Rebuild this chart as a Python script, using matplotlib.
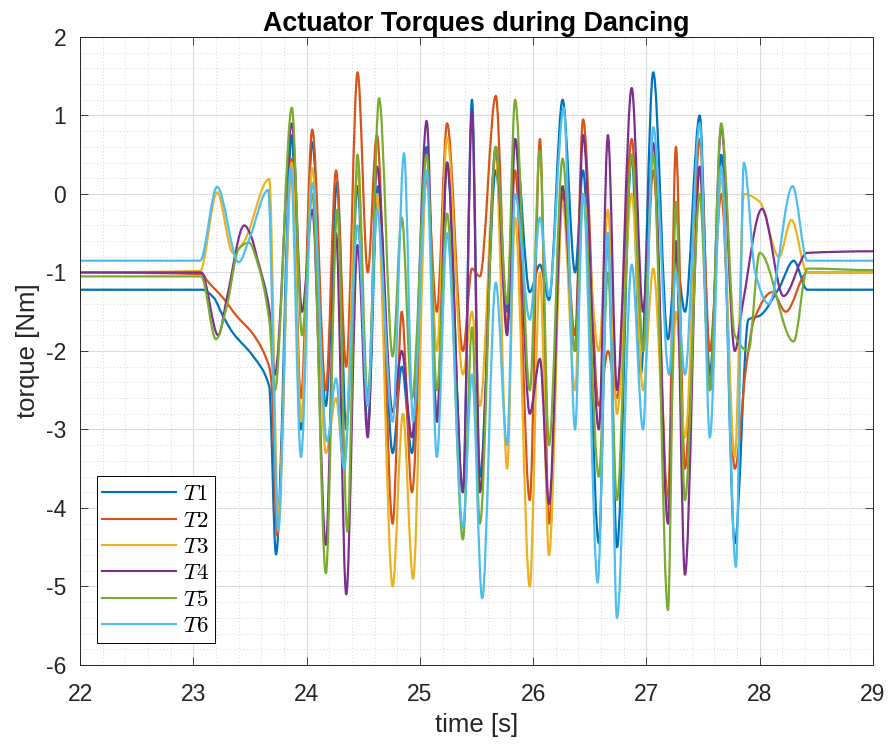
import matplotlib
matplotlib.use("Agg")
import matplotlib.pyplot as plt
from matplotlib.ticker import MultipleLocator
from matplotlib.path import Path
from matplotlib.patches import PathPatch
from matplotlib.lines import Line2D

plt.rcParams['font.family'] = ['Liberation Sans', 'DejaVu Sans']
plt.rcParams['mathtext.fontset'] = 'cm'
plt.rcParams['axes.unicode_minus'] = False

# Torque samples (time [s], torque [Nm]) for each actuator
T1_t = [22.0, 23.08, 23.18, 23.26, 23.35, 23.53, 23.67, 23.73, 23.87, 23.95, 24.05, 24.17, 24.27, 24.35,
        24.45, 24.54, 24.63, 24.76, 24.84, 24.93, 25.06, 25.15, 25.24, 25.38, 25.46, 25.53, 25.67, 25.77,
        25.84, 25.97, 26.06, 26.14, 26.26, 26.37, 26.44, 26.58, 26.66, 26.74, 26.87, 26.95, 27.06, 27.19,
        27.26, 27.34, 27.47, 27.56, 27.66, 27.78, 27.90, 28.00, 28.17, 28.30, 28.42, 29.0]
T1_v = [-1.22, -1.22, -1.32, -1.55, -1.77, -2.07, -2.45, -4.59, 0.75, -3.0, 0.66, -2.7, 0.15, -3.0,
        0.1, -3.0, 0.1, -3.3, -2.2, -3.3, 0.6, -2.9, 0.4, -3.8, 1.2, -3.6, 0.3, -1.5,
        0.7, -1.25, -0.9, -1.35, 1.2, -1.0, 0.3, -4.45, -0.5, -4.5, 0.5, -2.3, 1.55, -1.85,
        -0.8, -1.5, 1.0, -2.3, 0.5, -4.45, -1.6, -1.55, -1.2, -0.85, -1.22, -1.22]

T2_t = [22.0, 23.08, 23.12, 23.26, 23.38, 23.53, 23.67, 23.69, 23.74, 23.87, 23.95, 24.05, 24.17, 24.26,
        24.35, 24.45, 24.54, 24.62, 24.76, 24.84, 24.93, 25.06, 25.15, 25.24, 25.38, 25.46, 25.53, 25.67,
        25.77, 25.84, 25.97, 26.06, 26.14, 26.26, 26.37, 26.44, 26.58, 26.66, 26.74, 26.87, 26.97, 27.06,
        27.19, 27.26, 27.34, 27.47, 27.56, 27.66, 27.78, 27.88, 27.95, 28.11, 28.23, 28.42, 29.0]
T2_v = [-1.0, -1.02, -1.1, -1.32, -1.55, -1.79, -2.2, -2.4, -4.35, 0.45, -2.6, 0.82, -2.5, 0.3,
        -2.2, 1.55, -1.0, 0.75, -4.2, -1.5, -3.8, 0.2, -1.5, 0.9, -2.0, -0.95, -1.05, 1.25,
        -1.7, 0.3, -3.9, 0.7, -4.2, 0.0, -1.8, 0.95, -2.7, -2.0, -2.6, 0.7, -2.0, 0.3,
        -3.9, 0.6, -3.5, 0.7, -2.0, 0.0, -3.5, -2.2, -1.6, -1.25, -1.5, -1.0, -1.0]

T3_t = [22.0, 23.06, 23.21, 23.35, 23.45, 23.67, 23.75, 23.87, 23.95, 24.05, 24.17, 24.26, 24.33, 24.45,
        24.54, 24.62, 24.76, 24.85, 24.94, 25.06, 25.15, 25.24, 25.38, 25.46, 25.53, 25.67, 25.77, 25.84,
        25.97, 26.06, 26.14, 26.26, 26.37, 26.44, 26.58, 26.66, 26.74, 26.87, 26.97, 27.06, 27.19, 27.26,
        27.34, 27.47, 27.56, 27.66, 27.78, 27.86, 28.00, 28.17, 28.28, 28.42, 29.0]
T3_v = [-1.0, -0.98, 0.02, -0.75, -0.6, 0.19, -4.1, 0.4, -2.9, 0.33, -3.3, -2.6, -3.45, 0.3,
        -2.7, 0.0, -5.0, -2.8, -4.9, 0.3, -2.0, 0.72, -2.3, -1.5, -2.7, 0.5, -3.5, -0.3,
        -5.0, -1.0, -4.6, -0.1, -2.5, 0.0, -2.0, -0.2, -2.8, 0.0, -2.5, -0.95, -4.0, -1.5,
        -3.1, 0.3, -2.5, 0.2, -3.35, 0.0, -0.1, -0.8, -0.33, -1.0, -1.0]

T4_t = [22.0, 23.07, 23.22, 23.30, 23.45, 23.50, 23.57, 23.67, 23.72, 23.87, 23.96, 24.05, 24.17, 24.26,
        24.35, 24.45, 24.54, 24.62, 24.76, 24.84, 24.93, 25.06, 25.15, 25.24, 25.38, 25.46, 25.53, 25.67,
        25.77, 25.84, 25.97, 26.06, 26.14, 26.26, 26.37, 26.44, 26.58, 26.66, 26.74, 26.87, 26.97, 27.06,
        27.19, 27.26, 27.34, 27.47, 27.56, 27.66, 27.78, 27.85, 28.02, 28.21, 28.42, 29.0]
T4_v = [-1.0, -1.0, -1.8, -1.3, -0.4, -0.5, -0.85, -1.46, -2.3, 0.9, -1.5, -0.2, -4.47, -0.5,
        -5.1, -0.65, -3.1, 0.35, -2.78, -2.0, -3.1, 0.93, -2.9, 0.4, -3.8, 1.05, -3.8, 0.6,
        -1.8, 0.7, -2.8, -2.1, -3.95, 0.1, -2.0, 0.75, -3.0, 0.75, -2.5, 1.35, -1.5, 0.65,
        -4.2, -0.6, -4.85, 0.35, -2.5, 0.85, -2.0, -1.4, -0.19, -1.3, -0.75, -0.73]

T5_t = [22.0, 23.07, 23.20, 23.30, 23.40, 23.49, 23.58, 23.67, 23.72, 23.87, 23.96, 24.05, 24.17, 24.27,
        24.36, 24.45, 24.54, 24.64, 24.76, 24.84, 24.93, 25.06, 25.15, 25.24, 25.38, 25.46, 25.53, 25.67,
        25.77, 25.84, 25.97, 26.06, 26.14, 26.26, 26.37, 26.44, 26.58, 26.66, 26.74, 26.87, 26.97, 27.06,
        27.19, 27.26, 27.34, 27.47, 27.56, 27.66, 27.78, 27.90, 28.00, 28.30, 28.42, 29.0]
T5_v = [-1.05, -1.05, -1.85, -1.4, -0.7, -0.62, -0.94, -1.6, -2.5, 1.1, -1.8, 0.0, -4.83, -0.2,
        -4.3, 0.5, -2.6, 1.22, -2.07, -0.3, -2.6, 0.5, -2.5, -0.25, -4.4, -1.7, -4.2, 0.6,
        -1.4, 1.2, -2.5, 0.55, -3.2, 0.45, -2.0, 0.0, -3.6, -1.0, -3.9, 0.5, -2.0, 0.5,
        -5.3, -0.1, -3.9, 0.0, -2.5, 0.9, -1.8, -2.0, -0.75, -1.88, -0.95, -0.97]

T6_t = [22.0, 23.06, 23.21, 23.40, 23.50, 23.66, 23.75, 23.86, 23.95, 24.05, 24.18, 24.26, 24.33, 24.45,
        24.54, 24.62, 24.76, 24.86, 24.94, 25.06, 25.15, 25.24, 25.38, 25.46, 25.55, 25.67, 25.77, 25.84,
        25.97, 26.06, 26.14, 26.27, 26.37, 26.44, 26.57, 26.66, 26.74, 26.87, 26.97, 27.06, 27.20, 27.26,
        27.34, 27.47, 27.56, 27.66, 27.79, 27.86, 27.96, 28.08, 28.29, 28.42, 29.0]
T6_v = [-0.85, -0.85, 0.09, -0.87, -0.55, 0.05, -4.29, 0.33, -3.35, 0.14, -3.15, -2.35, -3.5, -0.4,
        -2.7, -0.2, -2.9, 0.52, -2.9, 0.3, -3.35, -0.5, -4.25, -2.3, -5.15, -1.13, -3.2, 0.0,
        -1.6, -0.3, -1.3, 1.1, -3.0, 0.0, -4.95, -0.5, -5.4, -0.9, -3.0, 0.85, -2.3, -1.0,
        -2.3, 0.9, -3.1, 0.35, -4.75, 0.4, -1.0, -1.4, 0.1, -0.85, -0.85]

series_t = [T1_t, T2_t, T3_t, T4_t, T5_t, T6_t]
series_v = [T1_v, T2_v, T3_v, T4_v, T5_v, T6_v]
labels = [r'$T1$', r'$T2$', r'$T3$', r'$T4$', r'$T5$', r'$T6$']
colors = ['#0072BD', '#D95319', '#EDB120', '#7E2F8E', '#77AC30', '#4DBEEE']


def smooth_path(t, v):
    """Cubic Bezier path through the samples, flat at turning points (shape-preserving)."""
    n = len(t)
    d = [(v[i + 1] - v[i]) / (t[i + 1] - t[i]) for i in range(n - 1)]
    m = [0.0] * n
    for i in range(1, n - 1):
        if d[i - 1] * d[i] > 0:
            m[i] = 2.0 / (1.0 / d[i - 1] + 1.0 / d[i])
    verts = [(t[0], v[0])]
    codes = [Path.MOVETO]
    for i in range(n - 1):
        h = t[i + 1] - t[i]
        verts += [(t[i] + h / 3, v[i] + m[i] * h / 3),
                  (t[i + 1] - h / 3, v[i + 1] - m[i + 1] * h / 3),
                  (t[i + 1], v[i + 1])]
        codes += [Path.CURVE4] * 3
    return Path(verts, codes)


fig = plt.figure(figsize=(8.92, 7.44), dpi=100)
ax = fig.add_axes([0.0897, 0.1062, 0.889, 0.8441])

handles = []
for t, v, lab, c in zip(series_t, series_v, labels, colors):
    ax.add_patch(PathPatch(smooth_path(t, v), fill=False, edgecolor=c, lw=1.6,
                           capstyle='round', joinstyle='round'))
    handles.append(Line2D([], [], color=c, lw=1.5, label=lab))

ax.set_xlim(22, 29)
ax.set_ylim(-6, 2)
ax.xaxis.set_major_locator(MultipleLocator(1))
ax.yaxis.set_major_locator(MultipleLocator(1))
ax.xaxis.set_minor_locator(MultipleLocator(0.2))
ax.yaxis.set_minor_locator(MultipleLocator(0.2))

ax.grid(True, which='major', color='#dcdcdc', lw=0.8)
ax.grid(True, which='minor', color='#c8c8c8', lw=0.6, linestyle=(0, (1, 3)))
ax.set_axisbelow(True)

ax.tick_params(which='both', direction='in', top=True, right=True, labelsize=16.5,
               colors='#262626', width=0.6)
ax.tick_params(which='major', length=6)
ax.tick_params(which='minor', length=0)
ax.tick_params(axis='x', pad=13)
ax.tick_params(axis='y', pad=10)
for s in ax.spines.values():
    s.set_color('#262626')
    s.set_linewidth(0.7)

ax.set_title('Actuator Torques during Dancing', fontsize=19.4, fontweight='bold', color='black', pad=4)
ax.set_xlabel('time [s]', fontsize=18.5, color='#262626', labelpad=5)
ax.set_ylabel('torque [Nm]', fontsize=18.5, color='#262626', labelpad=4)

leg = ax.legend(handles=handles, loc='lower left', bbox_to_anchor=(0.021, 0.035), borderaxespad=0,
                fontsize=16.5, handlelength=3.2, labelspacing=0.15, handletextpad=0.3,
                borderpad=0.25, fancybox=False, framealpha=1, edgecolor='black')
leg.get_frame().set_linewidth(0.7)

fig.savefig('out.png', dpi=100)
